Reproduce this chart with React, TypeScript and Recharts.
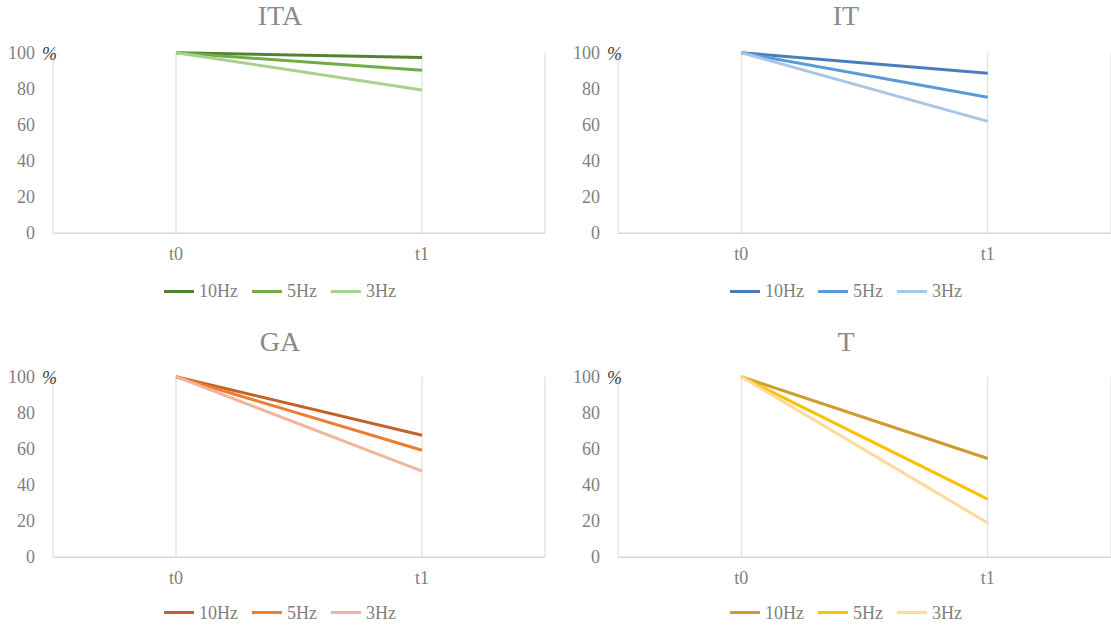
import React from "react";
import { LineChart, Line, XAxis, YAxis, CartesianGrid, Legend } from "recharts";

const categories = ["t0", "t1"];
const seriesNames = ["10Hz", "5Hz", "3Hz"];
const yTicks = [0, 20, 40, 60, 80, 100];

const ITA_10Hz = [100, 97.4];
const ITA_5Hz = [100, 90.3];
const ITA_3Hz = [100, 79.3];

const IT_10Hz = [100, 88.6];
const IT_5Hz = [100, 75.3];
const IT_3Hz = [100, 62.0];

const GA_10Hz = [100, 67.6];
const GA_5Hz = [100, 59.3];
const GA_3Hz = [100, 47.7];

const T_10Hz = [100, 54.7];
const T_5Hz = [100, 32.2];
const T_3Hz = [100, 19.0];

const FONT = "Liberation Serif, Times New Roman, serif";
const GRAY = "#7f7f7f";

function buildRows(s10: number[], s5: number[], s3: number[]) {
  return categories.map((c, i) => ({ t: c, "10Hz": s10[i], "5Hz": s5[i], "3Hz": s3[i] }));
}

const panels = [
  { title: "ITA", left: 0, top: 0, width: 560, mLeft: 8, mRight: 15, legendTop: 280, titleTop: 0,
    rows: buildRows(ITA_10Hz, ITA_5Hz, ITA_3Hz), colors: ["#548235", "#70AD47", "#A9D18E"] },
  { title: "IT", left: 560, top: 0, width: 572, mLeft: 13, mRight: 21, legendTop: 280, titleTop: 0,
    rows: buildRows(IT_10Hz, IT_5Hz, IT_3Hz), colors: ["#4A7EBB", "#5B9BD5", "#A9C6E8"] },
  { title: "GA", left: 0, top: 323.5, width: 560, mLeft: 8, mRight: 15, legendTop: 278, titleTop: 2,
    rows: buildRows(GA_10Hz, GA_5Hz, GA_3Hz), colors: ["#C3622A", "#ED7D31", "#F3B49E"] },
  { title: "T", left: 560, top: 323.5, width: 572, mLeft: 13, mRight: 21, legendTop: 278, titleTop: 2,
    rows: buildRows(T_10Hz, T_5Hz, T_3Hz), colors: ["#CF9D2C", "#FFC000", "#FFD99A"] },
];

const PANEL_H = 302;

const YTick = (props: any) => {
  const { x, y, payload } = props;
  return (
    <g>
      <text x={x} y={y} dy="0.34em" textAnchor="end" fill={GRAY} fontSize={18} fontFamily={FONT}>
        {payload.value}
      </text>
      {payload.value === 100 && (
        <text x={x + 7} y={y} dy="0.42em" textAnchor="start" fill="#404040" fontSize={18} fontStyle="italic" fontFamily={FONT}>
          %
        </text>
      )}
    </g>
  );
};

const makeLegend = (colors: string[]) => () => (
  <div style={{ display: "flex", justifyContent: "center", alignItems: "center", gap: 14, fontFamily: FONT, fontSize: 18, lineHeight: "22px", color: GRAY }}>
    {seriesNames.map((name, i) => (
      <div key={name} style={{ display: "flex", alignItems: "center" }}>
        <div style={{ width: 30, height: 3, background: colors[i], marginRight: 5 }} />
        <span>{name}</span>
      </div>
    ))}
  </div>
);

function Panel(p: any) {
  const LegendContent = makeLegend(p.colors);
  const plotW = p.width - p.mLeft - 45 - p.mRight;
  const pad = plotW / 4;
  return (
    <div style={{ position: "absolute", left: p.left, top: p.top, width: p.width, height: PANEL_H }}>
      <div style={{ position: "absolute", left: 0, top: p.titleTop, width: p.width, textAlign: "center", fontFamily: FONT, fontSize: 28, lineHeight: "32px", color: "#8a8a8a" }}>
        {p.title}
      </div>
      <LineChart width={p.width} height={PANEL_H} data={p.rows}
        margin={{ top: 52.7, right: p.mRight, bottom: PANEL_H - 233.3 - 40, left: p.mLeft }}>
        <CartesianGrid horizontal={false} vertical={true} stroke="#d9d9d9" strokeWidth={1} />
        <XAxis dataKey="t" type="category" height={40} tickLine={false} tickSize={0} tickMargin={14}
          padding={{ left: pad, right: pad }}
          axisLine={{ stroke: "#d9d9d9", strokeWidth: 1.5 }}
          tick={{ fill: GRAY, fontSize: 18, fontFamily: FONT }} />
        <YAxis type="number" domain={[0, 100]} ticks={yTicks} width={45} axisLine={false} tickLine={false}
          tickSize={0} tickMargin={18} tick={<YTick />} interval={0} />
        <Legend layout="horizontal" verticalAlign="middle" align="center" content={<LegendContent />}
          wrapperStyle={{ top: p.legendTop, left: 0, width: p.width, height: 22 }} />
        {seriesNames.map((s, i) => (
          <Line key={s} type="linear" dataKey={s} name={s} stroke={p.colors[i]} strokeWidth={3}
            dot={false} activeDot={false} isAnimationActive={false} />
        ))}
      </LineChart>
    </div>
  );
}

export default function App() {
  return (
    <div style={{ position: "absolute", left: 0, top: 0, width: 1111, height: 626, overflow: "hidden", background: "#ffffff" }}>
      {panels.map((p) => (
        <Panel key={p.title} {...p} />
      ))}
    </div>
  );
}
